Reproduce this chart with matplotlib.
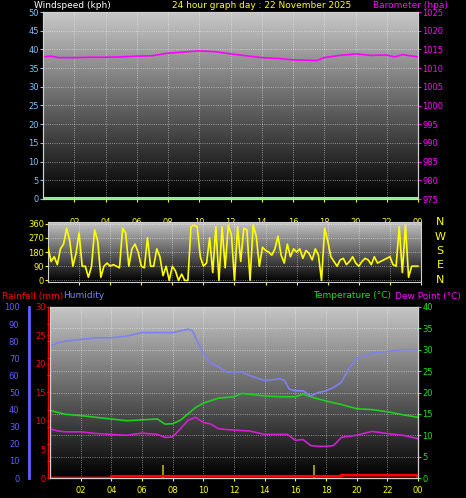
import numpy as np
import matplotlib
matplotlib.use("Agg")
import matplotlib.pyplot as plt

# ---- data ----
baro_t = [0, 0.5, 1, 2, 3, 4, 5, 6, 7, 8, 9, 10, 11, 12, 13, 14, 15, 16, 17, 17.5, 18, 19, 20, 21, 22, 22.5, 23, 24]
baro_v = [1013.0, 1013.2, 1012.8, 1012.8, 1012.9, 1012.9, 1013.0, 1013.2, 1013.3, 1014.0, 1014.3, 1014.6, 1014.4, 1013.8, 1013.3, 1012.8, 1012.6, 1012.2, 1012.1, 1012.0, 1012.8, 1013.4, 1013.8, 1013.4, 1013.5, 1013.0, 1013.6, 1013.0]
wspd_t = [0, 24]
wspd_v = [0.3, 0.3]

wdir_t = [i * 0.2 for i in range(120)]
wdir_v = [210, 120, 150, 100, 200, 230, 330, 250, 90, 170, 300, 90, 90, 20, 90, 320, 250, 20, 90, 110,
          90, 100, 90, 80, 330, 300, 90, 200, 230, 180, 90, 80, 270, 90, 90, 200, 150, 30, 90, 0,
          90, 60, 0, 40, 0, 0, 340, 350, 340, 150, 90, 110, 270, 50, 340, 0, 340, 80, 350, 290,
          0, 340, 120, 330, 320, 0, 350, 280, 90, 210, 190, 180, 160, 200, 280, 160, 110, 230, 150, 200,
          180, 200, 140, 190, 170, 130, 200, 160, 0, 330, 250, 150, 120, 90, 130, 140, 100, 120, 150, 110,
          90, 120, 140, 130, 100, 150, 110, 120, 130, 140, 150, 100, 90, 340, 50, 350, 20, 90, 90, 90]

hum_t = [0, 0.5, 1, 2, 3, 4, 5, 6, 7, 8, 8.5, 9, 9.3, 9.6, 10, 10.5, 11, 11.5, 12, 12.5, 13, 14, 15, 15.3, 15.6, 16, 16.5, 17, 17.5, 18, 18.5, 19, 19.5, 20, 21, 22, 23, 24]
hum_v = [77, 79, 80, 81, 82, 82, 83, 85, 85, 85, 86, 87, 86, 80, 73, 67, 65, 62, 62, 62, 60, 57, 58, 57, 52, 51, 51, 48, 50, 51, 53, 56, 64, 70, 73, 74, 75, 75]
temp_t = [0, 1, 2, 3, 4, 5, 6, 7, 7.5, 8, 8.5, 9, 9.5, 10, 11, 12, 12.5, 13, 14, 15, 16, 16.5, 17, 18, 19, 20, 21, 22, 23, 24]
temp_v = [15.8, 14.9, 14.6, 14.2, 13.8, 13.4, 13.6, 13.8, 12.6, 12.7, 13.5, 15.0, 16.5, 17.5, 18.7, 19.0, 19.8, 19.6, 19.2, 19.0, 19.0, 19.6, 19.0, 18.0, 17.2, 16.2, 16.0, 15.5, 14.8, 14.2]
dew_t = [0, 0.5, 1, 2, 3, 4, 5, 6, 7, 7.5, 8, 8.5, 9, 9.5, 10, 10.5, 11, 12, 13, 14, 15, 15.5, 16, 16.5, 17, 17.5, 18, 18.5, 19, 20, 21, 22, 23, 24]
dew_v = [11.5, 11.0, 10.8, 10.8, 10.4, 10.2, 10.0, 10.5, 10.2, 9.5, 9.6, 11.5, 13.5, 14.2, 13.0, 12.6, 11.5, 11.2, 11.0, 10.2, 10.2, 10.2, 8.8, 9.0, 7.6, 7.4, 7.4, 7.6, 9.5, 10.0, 10.9, 10.4, 10.0, 9.2]
rain_t = [0, 4, 4, 19, 19, 23.9, 24]
rain_v = [0, 0, 0.3, 0.3, 0.5, 0.5, 0.0]
rate_t = [7.4, 17.2]
rate_v = [3.0, 3.0]
xt = [2, 4, 6, 8, 10, 12, 14, 16, 18, 20, 22, 24]
xl = ["02", "04", "06", "08", "10", "12", "14", "16", "18", "20", "22", "00"]

W, H = 466, 498
fig = plt.figure(figsize=(W / 100, H / 100), dpi=100, facecolor="black")

def ax_at(x0, y0, x1, y1):
    return fig.add_axes([x0 / W, 1 - y1 / H, (x1 - x0) / W, (y1 - y0) / H])

grad = np.linspace(0.78, 0.0, 256).reshape(-1, 1)

def style(ax, ylim, yt, color, xlabels=True):
    ax.imshow(grad, cmap="gray", vmin=0, vmax=1, aspect="auto", extent=[0, 24, ylim[0], ylim[1]], zorder=0)
    ax.set_xlim(0, 24)
    ax.set_ylim(*ylim)
    ax.set_xticks(xt)
    ax.set_xticklabels(xl if xlabels else [])
    ax.set_yticks(yt)
    ax.grid(True, color="white", ls=":", lw=0.6, alpha=0.6)
    ax.tick_params(axis="x", colors="yellow", labelsize=6, length=2)
    ax.tick_params(axis="y", colors=color, labelsize=6, length=2, pad=1)
    for s in ax.spines.values():
        s.set_color("#d0d0d0")

# panel 1
a1 = ax_at(43, 12, 418, 199)
style(a1, (0, 50), range(0, 51, 5), "#80c0ff")
a1.plot(wspd_t, wspd_v, color="#90ee90", lw=1.5, zorder=3)
b1 = a1.twinx()
b1.set_ylim(975, 1025)
b1.set_yticks(range(975, 1026, 5))
b1.tick_params(axis="y", colors="magenta", labelsize=6, length=2, pad=1)
b1.plot(baro_t, baro_v, color="magenta", lw=1.2)
fig.text(34 / W, 1 - 5 / H, "Windspeed (kph)", color="white", fontsize=6.5, va="center")
fig.text(172 / W, 1 - 5 / H, "24 hour graph day : 22 November 2025", color="yellow", fontsize=6.5, va="center")
fig.text(373 / W, 1 - 5 / H, "Barometer (hpa)", color="magenta", fontsize=6.5, va="center")
for x, l in zip(xt, xl):
    a1.text(x, -5, l, color="yellow", fontsize=6, ha="center", va="top")
a1.set_xticklabels([])

# panel 2
a2 = ax_at(48, 222, 421, 282)
style(a2, (-10, 370), [0, 90, 180, 270, 360], "yellow", xlabels=False)
a2.plot(wdir_t, wdir_v, color="yellow", lw=1.2, zorder=3)
for i, c in enumerate("NWSEN"):
    fig.text(440 / W, 1 - (222 + i * 14.5) / H, c, color="yellow", fontsize=8, ha="center", va="center")

fig.text(2 / W, 1 - 296 / H, "Rainfall (mm)", color="red", fontsize=6.5, va="center")
fig.text(63 / W, 1 - 296 / H, "Humidity", color="#8080ff", fontsize=6.5, va="center")
fig.text(313 / W, 1 - 296 / H, "Temperature (°C)", color="#20e020", fontsize=6.5, va="center")
fig.text(395 / W, 1 - 296 / H, "Dew Point (°C)", color="magenta", fontsize=6.5, va="center")

# panel 3
a3 = ax_at(50, 307, 418, 478)
style(a3, (0, 40), range(0, 41, 5), "#20e020")
a3.plot(temp_t, temp_v, color="#20d020", lw=1.2, zorder=3)
a3.plot(dew_t, dew_v, color="#d020d0", lw=1.2, zorder=3)
a3.vlines(rate_t, 0, rate_v, color="#c0b000", lw=1.2, zorder=3)
h3 = a3.twinx()
h3.set_ylim(0, 100)
h3.set_yticks(range(0, 101, 10))
h3.plot(hum_t, hum_v, color="#8080f0", lw=1.2)
r3 = a3.twinx()
r3.set_ylim(0, 30)
r3.set_yticks(range(0, 31, 5))
r3.plot(rain_t, rain_v, color="red", lw=2)
# place ticks after twinx (twinx resets the host axis side)
a3.yaxis.tick_right()
a3.tick_params(axis="y", colors="#20e020", labelsize=6, length=2, pad=1)
h3.yaxis.tick_left()
h3.tick_params(axis="y", colors="#6060ff", labelsize=6, length=2, pad=20)
r3.yaxis.tick_left()
r3.tick_params(axis="y", colors="red", labelsize=6, length=2, pad=1)
fig.add_artist(plt.Line2D([29 / W, 29 / W], [1 - 478 / H, 1 - 307 / H], color="#6060ff", lw=2))
fig.add_artist(plt.Line2D([48 / W, 48 / W], [1 - 478 / H, 1 - 307 / H], color="red", lw=1))
for ax in (h3, r3, b1):
    for s in ax.spines.values():
        s.set_color("#d0d0d0")

fig.savefig("out.png", dpi=100, facecolor="black")
